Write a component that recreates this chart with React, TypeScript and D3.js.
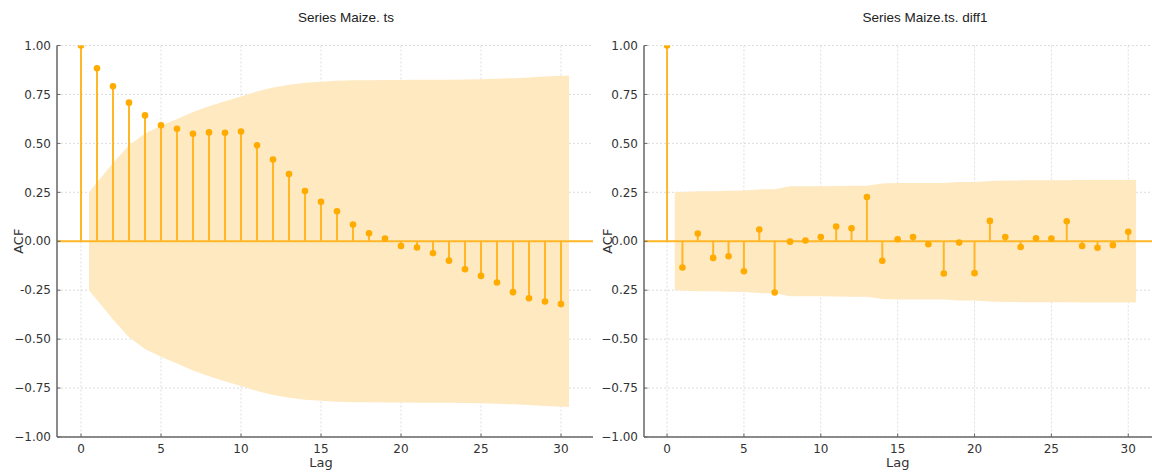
import React from 'react';
import * as d3 from 'd3';

// ACF values, lags 0..30
const LAGS = d3.range(0, 31);

const MAIZE_ACF = [
  1.0, 0.884, 0.792, 0.708, 0.643, 0.592, 0.575, 0.549, 0.556, 0.554, 0.561,
  0.49, 0.418, 0.343, 0.257, 0.202, 0.153, 0.085, 0.041, 0.014, -0.024,
  -0.032, -0.061, -0.099, -0.143, -0.177, -0.211, -0.26, -0.291, -0.308, -0.321,
];

// confidence band half-width, lags 1..30
const MAIZE_BAND = [
  0.25, 0.4, 0.49, 0.55, 0.59, 0.625, 0.66, 0.69, 0.715, 0.74, 0.765, 0.785,
  0.8, 0.81, 0.815, 0.82, 0.822, 0.823, 0.824, 0.824, 0.825, 0.825, 0.825,
  0.826, 0.827, 0.83, 0.833, 0.837, 0.842, 0.847,
];

const DIFF_ACF = [
  1.0, -0.134, 0.039, -0.085, -0.077, -0.153, 0.06, -0.262, -0.002, 0.004,
  0.022, 0.075, 0.066, 0.226, -0.1, 0.01, 0.022, -0.015, -0.165, -0.007,
  -0.163, 0.104, 0.022, -0.029, 0.015, 0.014, 0.102, -0.024, -0.033, -0.02, 0.048,
];

const DIFF_BAND = [
  0.25, 0.255, 0.256, 0.258, 0.259, 0.265, 0.266, 0.281, 0.281, 0.281, 0.282,
  0.283, 0.284, 0.295, 0.297, 0.297, 0.297, 0.297, 0.303, 0.303, 0.308, 0.31,
  0.311, 0.311, 0.311, 0.311, 0.313, 0.313, 0.313, 0.313,
];

const Y_TICKS = [-1, -0.75, -0.5, -0.25, 0, 0.25, 0.5, 0.75, 1];
const LEFT_Y_LABELS = ['\u22121.00', '\u22120.75', '\u22120.50', '-0.25', '0.00', '0.25', '0.50', '0.75', '1.00'];
const RIGHT_Y_LABELS = ['\u22121.00', '\u22120.75', '\u22120.50', '0.25', '0.00', '0.25', '0.50', '0.75', '1.00'];
const X_TICKS = [0, 5, 10, 15, 20, 25, 30];

const STEM = '#ffb627';
const DOT = '#ffab00';
const BAND = '#fee9c1';
const GRID = '#d4d4d4';
const SPINE = '#666';
const TEXT = '#333';
const TICK_FONT = 'DejaVu Sans, sans-serif';
const TITLE_FONT = 'Liberation Sans, Arial, sans-serif';

function AcfPanel({ id, title, titleX, acf, band, yLabels, x0, x1, y0, y1, ylabelX }) {
  const x = d3.scaleLinear().domain([-1.5, 32]).range([x0, x1]);
  const y = d3.scaleLinear().domain([-1, 1]).range([y1, y0]);

  const bandPts = band.map((b, i) => {
    let lag = i + 1;
    if (i === 0) lag -= 0.5;
    if (i === band.length - 1) lag += 0.5;
    return { lag, b };
  });
  const area = d3.area()
    .x(d => x(d.lag))
    .y0(d => y(-d.b))
    .y1(d => y(d.b));

  const clip = `clip-${id}`;
  return (
    <g>
      <defs>
        <clipPath id={clip}>
          <rect x={x0} y={y0} width={x1 - x0} height={y1 - y0} />
        </clipPath>
      </defs>

      {/* grid */}
      {Y_TICKS.map(t => (
        <line key={'gy' + t} x1={x0} x2={x1} y1={y(t)} y2={y(t)}
          stroke={GRID} strokeWidth={0.8} strokeDasharray="2,2" />
      ))}
      {X_TICKS.map(t => (
        <line key={'gx' + t} x1={x(t)} x2={x(t)} y1={y0} y2={y1}
          stroke={GRID} strokeWidth={0.8} strokeDasharray="2,2" />
      ))}

      <g clipPath={`url(#${clip})`}>
        <path d={area(bandPts)} fill={BAND} />
        <line x1={x0} x2={x1} y1={y(0)} y2={y(0)} stroke={STEM} strokeWidth={2} />
        {LAGS.map(l => (
          <line key={'s' + l} x1={x(l)} x2={x(l)} y1={y(0)} y2={y(acf[l])}
            stroke={STEM} strokeWidth={2} />
        ))}
        {LAGS.map(l => (
          <circle key={'d' + l} cx={x(l)} cy={y(acf[l])} r={3.3} fill={DOT} />
        ))}
      </g>

      {/* spines */}
      <line x1={x0} x2={x0} y1={y0} y2={y1} stroke={SPINE} strokeWidth={1.5} />
      <line x1={x0} x2={x1} y1={y1} y2={y1} stroke={SPINE} strokeWidth={1.5} />
      {Y_TICKS.map(t => (
        <line key={'ty' + t} x1={x0} x2={x0 + 3.5} y1={y(t)} y2={y(t)} stroke={SPINE} strokeWidth={1} />
      ))}
      {X_TICKS.map(t => (
        <line key={'tx' + t} x1={x(t)} x2={x(t)} y1={y1} y2={y1 - 3.5} stroke={SPINE} strokeWidth={1} />
      ))}

      {Y_TICKS.map((t, i) => (
        <text key={'ly' + t} x={x0 - 6} y={y(t)} dy="0.35em" textAnchor="end"
          fontFamily={TICK_FONT} fontSize={12} fill={TEXT}>{yLabels[i]}</text>
      ))}
      {X_TICKS.map(t => (
        <text key={'lx' + t} x={x(t)} y={y1 + 16} textAnchor="middle"
          fontFamily={TICK_FONT} fontSize={12} fill={TEXT}>{t}</text>
      ))}

      <text x={x(15)} y={y1 + 30} textAnchor="middle" fontFamily={TICK_FONT}
        fontSize={13} fill={TEXT}>Lag</text>
      <text transform={`translate(${ylabelX},${y(0)}) rotate(-90)`} textAnchor="middle"
        dy="0.35em" fontFamily={TICK_FONT} fontSize={13} fill={TEXT}>ACF</text>

      <text x={titleX} y={22} textAnchor="middle" fontFamily={TITLE_FONT}
        fontSize={13.5} fill="#222">{title}</text>
    </g>
  );
}

export default function App() {
  return (
    <svg width={1152} height={473} style={{ position: 'absolute', left: 0, top: 0, background: '#fff' }}>
      <rect width={1152} height={473} fill="#fff" />
      <AcfPanel id="a" title="Series Maize. ts" titleX={346} acf={MAIZE_ACF} band={MAIZE_BAND}
        yLabels={LEFT_Y_LABELS} x0={57} x1={593} y0={45.5} y1={437} ylabelX={18} />
      <AcfPanel id="b" title="Series Maize.ts. diff1" titleX={925} acf={DIFF_ACF} band={DIFF_BAND}
        yLabels={RIGHT_Y_LABELS} x0={644} x1={1159} y0={45.5} y1={437} ylabelX={607} />
    </svg>
  );
}
